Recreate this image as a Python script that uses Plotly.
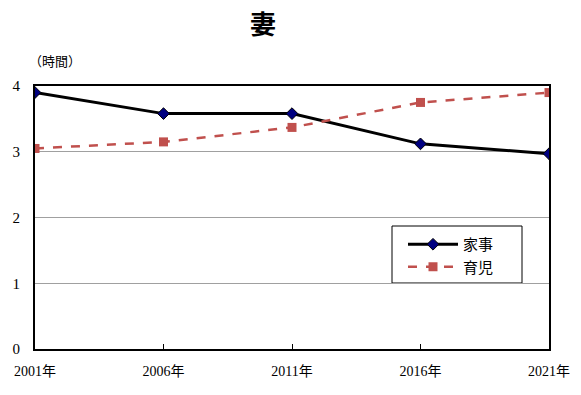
import plotly.graph_objects as go

years = ["2001年", "2006年", "2011年", "2016年", "2021年"]
housework = [3.90, 3.58, 3.58, 3.12, 2.97]
childcare = [3.05, 3.15, 3.37, 3.75, 3.90]
yticks = [0, 1, 2, 3, 4]

font_serif = "Liberation Serif, 'Noto Sans CJK JP', serif"
font_cjk = "'Noto Sans CJK JP', sans-serif"

W, H = 581, 395
L, R, T, B = 35, 32, 86, 46
pw, ph = W - L - R, H - T - B

def px(xp):
    return (xp - L) / pw

def py(yp):
    return (H - B - yp) / ph

fig = go.Figure()
fig.add_trace(go.Scatter(
    x=years, y=housework, name="家事", mode="lines+markers",
    line=dict(color="black", width=3),
    marker=dict(symbol="diamond", size=9, color="#000080", line=dict(color="black", width=1)),
))
fig.add_trace(go.Scatter(
    x=years, y=childcare, name="育児", mode="lines+markers",
    line=dict(color="#C0504D", width=2.5, dash="dash"),
    marker=dict(symbol="square", size=9, color="#C0504D"),
))

fig.update_layout(
    width=W, height=H,
    margin=dict(l=L, r=R, t=T, b=B),
    paper_bgcolor="white", plot_bgcolor="white",
    title=dict(text="<b>妻</b>", x=263/W, xanchor="center", y=1-25/H, yanchor="middle",
               font=dict(family=font_cjk, size=26, color="black")),
    showlegend=True,
    legend=dict(x=px(403), y=py(228), xanchor="left", yanchor="top",
                borderwidth=0, bgcolor="rgba(0,0,0,0)",
                font=dict(family=font_cjk, size=15, color="black"),
                itemwidth=50, tracegroupgap=6),
    shapes=[dict(type="rect", xref="paper", yref="paper",
                 x0=px(392), x1=px(522), y0=py(283), y1=py(226),
                 line=dict(color="black", width=1), fillcolor="white", layer="below")],
    xaxis=dict(type="category", range=[0, 4], showgrid=False,
               showline=True, linecolor="black", linewidth=2, mirror=True,
               ticks="inside", ticklen=5, tickcolor="black", ticklabelstandoff=8,
               tickfont=dict(family=font_serif, size=14, color="black"),
               zeroline=False),
    yaxis=dict(range=[0, 4], tickvals=yticks, showgrid=True, gridcolor="#a0a0a0", gridwidth=1,
               showline=True, linecolor="black", linewidth=2, mirror=True,
               ticks="", ticklabelstandoff=10,
               tickfont=dict(family=font_serif, size=15, color="black"),
               zeroline=False),
    annotations=[dict(text="（時間）", x=-0.015, y=1 + 26/ph, xref="paper", yref="paper",
                      xanchor="left", yanchor="middle", showarrow=False,
                      font=dict(family=font_cjk, size=13, color="black"))],
)

fig.write_html("out.html")
